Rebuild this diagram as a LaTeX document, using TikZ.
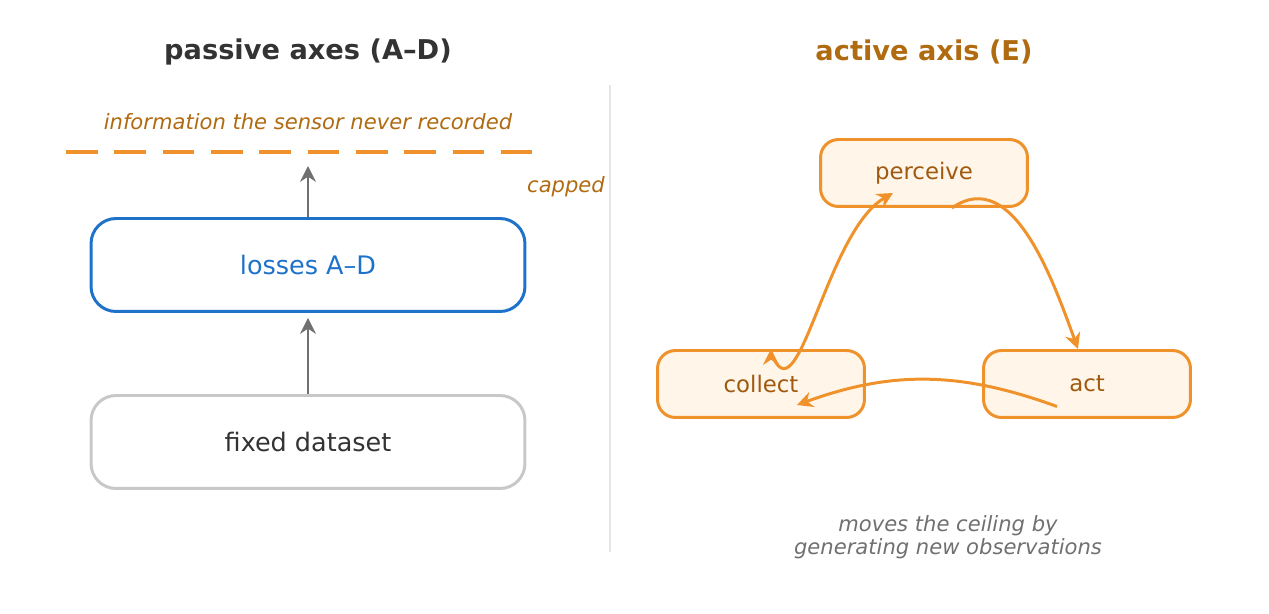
\documentclass[tikz,border=0pt]{standalone}
\usepackage{fontspec}
\setmainfont{DejaVu Sans}
\usetikzlibrary{arrows.meta}
\definecolor{orng}{HTML}{F0922B}
\definecolor{brn}{HTML}{B06A10}
\definecolor{dbrn}{HTML}{A05A10}
\definecolor{blu}{HTML}{1F72C9}
\definecolor{dgr}{HTML}{333333}
\definecolor{agr}{HTML}{707070}
\definecolor{lgr}{HTML}{C8C8C8}
\definecolor{pfill}{HTML}{FFF5E8}
\begin{document}
\begin{tikzpicture}[x=0.02cm,y=-0.02cm,
  big/.style={draw,line width=1.7pt,rounded corners=0.5cm,minimum width=8.68cm,minimum height=1.86cm,font=\fontsize{14.5}{17}\selectfont},
  loop/.style={draw=orng,fill=pfill,line width=1.7pt,rounded corners=0.36cm,minimum width=4.14cm,minimum height=1.34cm,text=dbrn,font=\fontsize{13}{15}\selectfont},
  garr/.style={-{Stealth[length=9pt,width=9pt]},agr,line width=1.7pt},
  oarr/.style={-{Stealth[length=9pt,width=9pt]},orng,line width=1.7pt}]
\useasboundingbox (0,0) rectangle (1269,614);
\node[font=\bfseries\fontsize{15.5}{18}\selectfont,text=dgr] (t1) at (308,52) {passive axes (A–D)};
\node[font=\bfseries\fontsize{15.5}{18}\selectfont,text=brn] (t2) at (924,52) {active axis (E)};
\coordinate (d1) at (610,85); \coordinate (d2) at (610,552);
\draw[black!10,line width=1.2pt] (d1) -- (d2);
\node[font=\itshape\fontsize{12}{14}\selectfont,text=brn] (info) at (308,122) {information the sensor never recorded};
\coordinate (c1) at (66,152); \coordinate (c2) at (542,152);
\draw[orng,line width=2.3pt,dash pattern=on 18pt off 9.5pt] (c1) -- (c2);
\node[font=\itshape\fontsize{12}{14}\selectfont,text=brn] (cap) at (566,187) {capped};
\node[big,draw=blu,text=blu] (loss) at (308,265) {losses A–D};
\node[big,draw=lgr,text=dgr] (fix) at (308,442) {fixed dataset};
\coordinate (ctop) at (308,166);
\draw[garr] (loss.north) -- (ctop);
\draw[garr] (fix.north) -- ([yshift=-0.1cm]loss.south);
\node[loop] (per) at (924,173) {perceive};
\node[loop] (col) at (761,384) {collect};
\node[loop] (act) at (1087,384) {act};
\draw[oarr] (771,352) to[out=-70,in=-150,looseness=1] (893,193);
\draw[oarr] (col.north -| 771,0) ++(0,0) ;
\draw[oarr] ([xshift=0.56cm]per.south) to[out=35,in=110] ([xshift=-0.18cm]act.north);
\draw[oarr] ([xshift=-0.6cm,yshift=0.25cm]act.south) to[out=160,in=20] ([xshift=0.72cm,yshift=0.28cm]col.south);
\node[font=\itshape\fontsize{12}{13}\selectfont,text=agr,align=center] (mv) at (948,537) {moves the ceiling by\\generating new observations};
\end{tikzpicture}
\end{document}
